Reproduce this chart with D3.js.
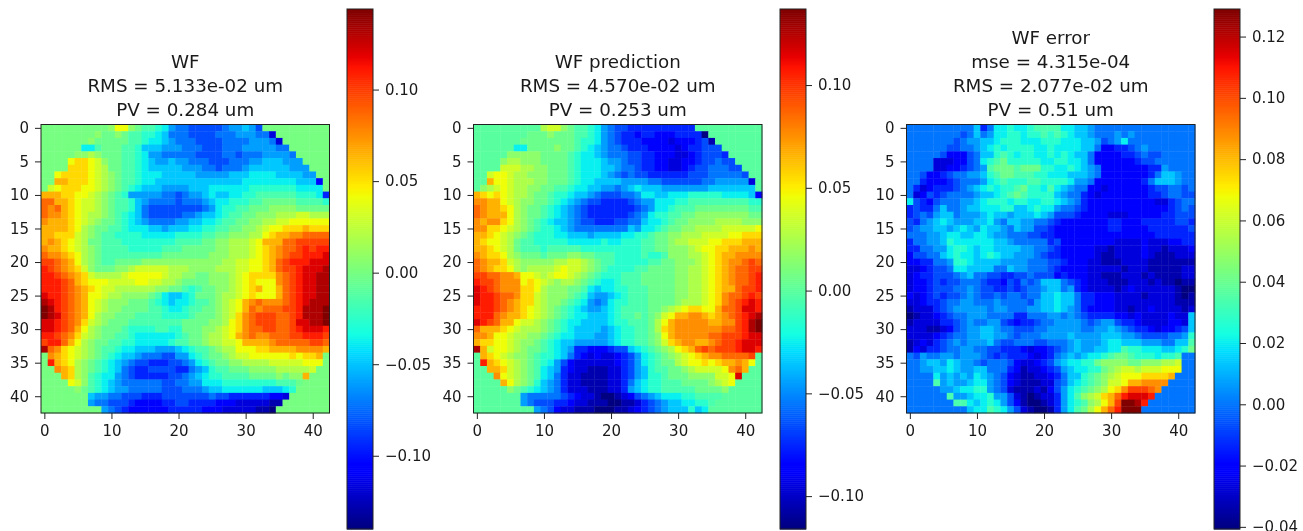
<!DOCTYPE html>
<html>
<head>
<meta charset="utf-8">
<script src="https://cdn.jsdelivr.net/npm/d3@7"></script>
<style>
html, body { margin: 0; padding: 0; background: #fff; overflow: hidden; }
svg { display: block; filter: blur(0.7px); }
text { font-family: "DejaVu Sans", sans-serif; fill: #1a1a1a; }
</style>
</head>
<body>
<script>
// one letter per pixel, a..z = bottom..top of that panel's colorbar, '.' = 0 (masked outside the pupil)
// spaces are only there to make the columns countable
var wfRows = [
"..... ..... nqqnm llkjh ggfff ffghh ihf.. ..... ...",
"..... ...nm mnmll kkjig ggfff fgggh hhggc ..... ...",
"..... ..nmm mmmll kjjih gggff ffggg ghhhg c.... ...",
"..... .jjlm mmllk iiihh hgggf ffggg hhhhh gg... ...",
"..... nnonm mmllk jhhgg gggff ffggf ggghh hhg.. ...",
"....q rrqpn mmllk jihhi hhggg fffgg ghhii ihhh. ...",
"....r rrqpo mmllk jiiii ihhhg gfggg hiiii iihhh ...",
"..qrr rrqpo nmllk jjjii iiihh hhhii ijjjj iiiih h..",
"..ssr rrqpo nmllk jjiii iiiii iiiii jjjjj jjjii id.",
".pqrr rqqpo nmlkj iiihh hhiii jjjjj jkkkk kkkjj jj.",
"sssrr qqpon mlkhh hhhgg fghhi jiijj kklll lllkk kje",
"uussr qppon mllki hgggg fgggh ijjkk kllmm mmmll llk",
"utusr qppon mllki gffff ffffg hjkkl lmmmn nnnmm mmm",
"uttsr qpoon mlkji gffff fgghi ijkll mmnnn ooopp ooo",
"tsssr qponm mlkji hgggg hhiij jkllm mnnoo ppqqq qqq",
"ssssr qonmm llkjj jiihi iijjk kllmm nnopq qrrrs rrr",
"ssrrr ponml lkkkk jjjjj kkkkl lmmnn nooqr ssttu uuu",
"stsrq pomml llkkk kkkkk llllm mnnoo opqss suuvv vvv",
"tssrq ponml lllkk kkkll lmmmm mnnoo opqrs tuuvw vww",
"uttsr qonml lllll lllmm mmmmm nnnoo opqrs tuvvw wwx",
"vvuts qonml lmmmm nnnnn nnnnn nnoop pqqrs uvwww xxx",
"wvuts rpnmm mnnop ppppo oonnn nooop pqqrs uvvwx xxy",
"wwvut srpoo oopqq qqqpo onnmm nnnop qrrrr tuvwx xyy",
"wwwvu srqqq ppppq qppoo nmmmm nnnop qrqqq tuvwx xyy",
"wwwvu tsrqp poooo oonnm mlklm mnnop qrsqq suvwx xyy",
"xwwvu tsqqp oonnn nmlji ijkmm mnoop qrqqq suvwx xyy",
"yxwvu tsqpo nnnmm mlkji jjkll mnopq stutt tuvwx yyy",
"zywvu tsqpo nnmmm mllkj jkllm mnopq sutuu uvvwy yyz",
"zyxvu tsqon nmmml lllkk kklmm mnopr tuvvv uuvwy yyz",
"xxwvu trpon mmmll lllll lmmmm nnoqr tuvvv uuvxx yyz",
"xxwvu sqonm mmlkk kkllk kmmmn nopqr tuuvv uuvwx xxw",
"wwvut rponm mllkj jjjjj klmmn oopqs tuttu uuvvw wwv",
"vwwus qonmm llkkj jjjjk llmmn ooppq sssst uuuuu vvu",
"yutrq ponml lkjji iihhh ijkll mnooq qqrrs ssstt tts",
".tsrq ponml kjiih gggff hhjkl mmnop pqqqq qqrqr rs.",
".wsrq onmlk jihgf feeef fghjk lmmnn oooop ppppq qq.",
"..tsr onmlk jigfe effff eeghi kllmm mnnnn ooooo p..",
"...sr onlkj jhgfe eeeef fghij kklll lmmmm nmnns ...",
"....q pnlkj ihggg gggff gghhj jjkkk kkkkk lllm. ...",
"..... nmlkj ihhgg gggff fgggh iijjj jjjii ijk.. ...",
"..... ..ihh ggfff eeeff fffff gffee eeeed dc... ...",
"..... ..hgg fffed dddee ffeee edddc ccccb b.... ...",
"..... ....h gfedd dddde eeeed ddccc ccbba ..... ..."
];
var predRows = [
"..... ..... oppnm llkjh gffee eeeee eee.. ..... ...",
"..... ...mm mnmmm llkjh gfeed eeddd eeeea ..... ...",
"..... ..mmm mmmmm lkkjh gfeee ddddc dddef b.... ...",
"..... .jjmm mmnmm lkjih ggfee edddd cdeef f.... ...".replace("f....", "ff..."),
"..... nnnnn mmmml kjjih gggff eeddd ccdef ffe.. ...",
"....n oonnn mmmml kjjji hhgff eeddc cddef fgff. ...",
"....p ppoon nmmml kjjji ihggf eeddc cdeff gggff ...",
"..pqq poonn nmmml kjjji hgfgf feeee eefff ggggg f..",
"..sqq pooon nmmml kjjii iihhh hggff ffffg ghhhh hc.",
".nopq poonn mmllk jjiih hghij iiihh hhhhh iiiii ii.",
"srqrq poonm mlkkj iihgf ffggh jjiij jjkkk kkjjj jid",
"ttssq ponnm mlkji hgffe eeefg hhjjj kklll lllll lkk",
"utssr qonmm lkjih gfeee eeeef ghjjk lllmm mmmmm mll",
"utsss qonmm lkjih gfeee eeefg hjkkl lmmnn nnnnn nmm",
"tsttr qonml kjiih gffee effgg ijjkl mmnnn noooo nnn",
"ttrrq ponml kkjih ggggg gggih jjklm mnnoo ooppp ppq",
"ssrqp onmlk kkjji iihii iijjk klmmn nooop pppqq rrr",
"srqqp omllk kkkkj jjjjk jjkkk llmmn ooppp qqrrr sss",
"ssrqp omlll kllll lkkkk kkkkk llmmn nnopq qrrss sts",
"tsrrq onmmm lmmmn nmmll lkkkk lkkln nnoop qrsst ttt",
"utssr ponnn nnoop ponml lkkkk kllmm nnnop qrstt uvu",
"utsrr qonoo oopqp ponml kkkkl lmmmm nnoop qrstu uvv",
"vvuut tsqqp opqqp onmlk kklll mmmmm nnoop qrstu uvw",
"wvvut ttqrq ponoo nmlkj jklll mmmmm nnoop qrstu uvw",
"xwvut ttrrq onnnm mljij jkkll lmmmm nnoop qrssu vvw",
"xwwvu utrrp onnnm lkihh ijkll lmmmm nnoop qrtuu vwv",
"xwwvu tsrrp onnml kjhgh jkkll lmmmm nooop qrtuv wxw",
"wwwvu tsrqp onmlk jihhi jklll lmmno pqrrq qsuuv xxw",
"wwwut ssrqp onmlk jjiii jkllm lmnpq sstts rstuv wxy",
"xwvus sqppo nmlkj jiiii jkkll lmoqs ttttt ssttv wyz",
"usssr qpooo nmlkj iiiih ijkkl lmors ttttt ttuuv wyz",
"ttsqq poonn mlkjj iiihh ijkkl lmnqs ttttt uuvvv wxx",
"srrqq ponnm lkjii hhhhh ijkkl lmnpr sttss tuvvw xxx",
"yspqq ponmm lkjih eeddd effij klmno qrsuv uvvvw xxw",
".srqp onnml kkjig edcdc cdefh jklmn opqrs ttuuu uv.",
".wsrq ponml kjhfd ccccc cdefh jklmm opqqr qrsst sq.",
"..ssr ponml jihed ccbbb ccefh ikllm mnopp ppqtu s..",
"...tq ponml jigec cbbbb ccefh ikklm mmnnn nppqx ...",
"....s qonmk ihgec cbbbb ccegi jkkll lmmmm nopq. ...",
"..... nmlkj ihgec ccbbb ccehi jkkll lllmm mmn.. ...",
"..... ..hgg gggfe dccba abcdf ghijj jkkll ll... ...",
"..... ..hgf ffeed ccbbb aabbc efghi ijjkk l.... ...",
"..... ....h gfdcc bbbaa abbcd efghi iikij ..... ..."
];
var errRows = [
"..... ..... iegjj kjjkl llljj iihgg ggg.. ..... ...",
"..... ...fg ighjj kkjkk lklkj iihgg ghghg ..... ...",
"..... ..fgh hiijk kkjjj kkkjj jiihf ghjgg g.... ...",
"..... .ffgg hijkj kkkkj jkjjj jiigd deefg hg... ...",
"..... fdddf giikl kjkkj jkjkj iigdd ddeef gff.. ...",
"....c ccddf gjklm kkkkk jjkkj jigdd dddde ffgg. ...",
"....c cddef ghlmm mlmmm kkjjk jihgd ddddd deehg ...",
"..fdd efggh hiklm mlllk kjjji iihgd ddddd degii h..",
"..edd defgg ghjkl kkkll kkkkj hhgdd ddddd egiii hg.",
".ecde eefgh ijkjk klmkk jljih ggddc ddddd deffg gf.",
"gcdfe fgggg hiijk lmlkk kkihg gedcd ddddd deefg gff",
"jfedf ggghh ijkkk jkkjj kkjih geddd ddddd ddcce fgg",
"efeeg igghi ijjjk kiijk jjhgg feddd ddddd dddde fgf",
"efgfh iighh hijii hiiij ihfff edddd cccdd dddee fff",
"feghi jihhh iijhg iihhg gfedd ddddd eeddd eeeee ffe",
"fghhi ihiji hjiih gihhf feddd ddddd eeddd deeee eef",
"ggghh ijjii jjihh gggff eeddd ddddd ddddd ddeee eee",
"egghh ikjjj jjjii hgggg gefdd ddddd dcccc dcccd dee",
"eeggh hjkkj ijjii iihhg gfedd dddcc bcccc dccbc ccd",
"dffgg ijkjj ijkji ihhhg feedd dddcb bcccc dcbbb ccc",
"ddeeg ghkkj iiiih hhhgg gffed ddccb bbccc cbbbb bbb",
"ccdef fgjji iiigg ihhgg gfedd ddccc ccbcc cbbbb bcc",
"cdeef ffghi ggffe effgf ffded ddccb bbccc bcbbb bcc",
"cddef effgg gfeed fegfg iiigf edccc bbbcc cbcbb abb",
"cddef ffggh gffee fefgg hiigh edccc cbcdc ccccc baa",
"dcdef effgh gffgf ggfgg iijii geedd dcccc bcccc bab",
"ccdee fgghh ggghg gggfh iijii geedd dcccc ccccc bbb",
"bccce fghhh hhghh ggghh iijih geddd dccbc cdccc cbc",
"abccd efggh hhggg geegg ghhgh gfeee eddcd ccccd cci",
"bcccc eefgh gghhf edeef gghhh hgfgh hfeed ccccd dci",
"cccbb cdfgh hiihg gfffg ghhhh hgghh ihgfe edcdd efi",
"ccccd efggh hiihh gfggg hhhhi hhhhi iihhg ffffg ghk",
"bcdce fghgh hhigf fgggf fgggh ihhhi jjiii hhhgg iil",
"bdcee fgghh ggffe eedcd defgh ihhii jjlkk jjjii jkm",
".fhgg hhghh hgfef eeedc deghi hijjk lmmlk kkjkk l..",
".ghii hjihh gfggg fdccd efhij jkkmn nnnmm nnnoo p..",
"..hhi ijihh iiggg edbcc defhi jjkkm noppo pppqq q..",
"...gj hihih jihgf dcbbc cdegi iklmn opqqq rrrrs ...",
"....l hihhi jjhgf dcbbb ccfgi jklmn ppqss tttt. ...",
"..... hhijj kkhgf cbbbc bdfhj klmno qrtvv vut.. ...",
"..... .lhhi jjkhh fcbab ccehj lnopr suwxx xw... ...",
"..... ..llj ijkjh fdbaa bcehj klnoq svzzy w.... ...",
"..... ....i jjlkj hfcba abehj lmoqs uwzzz ..... ..."
];

var vmin = [-0.140, -0.116, -0.0407];
var vmax = [0.144, 0.137, 0.129];
var cbTicks = [
    [-0.10, -0.05, 0.00, 0.05, 0.10],
    [-0.10, -0.05, 0.00, 0.05, 0.10],
    [-0.04, -0.02, 0.00, 0.02, 0.04, 0.06, 0.08, 0.10, 0.12]
];
var titles = [
    ['WF', 'RMS = 5.133e-02 um', 'PV = 0.284 um'],
    ['WF prediction', 'RMS = 4.570e-02 um', 'PV = 0.253 um'],
    ['WF error', 'mse = 4.315e-04', 'RMS = 2.077e-02 um', 'PV = 0.51 um']
];
var xTicks = [0, 10, 20, 30, 40];
var yTicks = [0, 5, 10, 15, 20, 25, 30, 35, 40];
var grids = [wfRows, predRows, errRows];

var width = 1303, height = 531;
var levels = 'abcdefghijklmnopqrstuvwxyz';
var n = 43;
var imgLeft = [41, 473.5, 906.5];
var imgSize = 288.5;
var imgTop = 124.5;
var cbLeft = [347, 780, 1214];
var cbWidth = 26;
var cbTop = 9, cbBottom = 529;

// matplotlib jet, channel by channel
var jetR = d3.scaleLinear().domain([0, 0.35, 0.66, 0.89, 1]).range([0, 0, 1, 1, 0.5]).clamp(true);
var jetG = d3.scaleLinear().domain([0, 0.125, 0.375, 0.64, 0.91, 1]).range([0, 0, 1, 1, 0, 0]).clamp(true);
var jetB = d3.scaleLinear().domain([0, 0.11, 0.34, 0.65, 1]).range([0.5, 1, 1, 0, 0]).clamp(true);
function jet(t) {
    return d3.rgb(jetR(t) * 255, jetG(t) * 255, jetB(t) * 255).formatRgb();
}

var svg = d3.select('body').append('svg').attr('width', width).attr('height', height);

function styleAxis(g) {
    g.selectAll('.domain').remove();
    g.selectAll('line').attr('stroke', '#222').attr('stroke-width', 1);
    g.selectAll('text').attr('font-size', 15).attr('fill', '#1a1a1a');
}

grids.forEach(function (rows, p) {
    var panel = svg.append('g');
    var x = d3.scaleLinear().domain([-0.5, n - 0.5]).range([imgLeft[p], imgLeft[p] + imgSize]);
    var y = d3.scaleLinear().domain([-0.5, n - 0.5]).range([imgTop, imgTop + imgSize]);
    var val = d3.scaleLinear().domain([0, 25]).range([vmin[p], vmax[p]]);
    var col = d3.scaleLinear().domain([vmin[p], vmax[p]]).range([0, 1]);

    var cells = [];
    rows.forEach(function (row, r) {
        var s = row.replace(/ /g, '');
        if (s.length !== n) throw new Error('panel ' + p + ' row ' + r + ' has ' + s.length + ' cells');
        for (var c = 0; c < n; c++) {
            var ch = s.charAt(c);
            cells.push({ r: r, c: c, v: ch === '.' ? 0 : val(levels.indexOf(ch)) });
        }
    });

    panel.selectAll('rect.cell').data(cells).enter().append('rect')
        .attr('class', 'cell')
        .attr('x', function (d) { return x(d.c - 0.5); })
        .attr('y', function (d) { return y(d.r - 0.5); })
        .attr('width', x(1) - x(0) + 0.4)
        .attr('height', y(1) - y(0) + 0.4)
        .attr('fill', function (d) { return jet(col(d.v)); });

    panel.append('rect')
        .attr('x', imgLeft[p]).attr('y', imgTop)
        .attr('width', imgSize).attr('height', imgSize)
        .attr('fill', 'none').attr('stroke', '#222').attr('stroke-width', 1);

    panel.append('g')
        .attr('transform', 'translate(0,' + (imgTop + imgSize) + ')')
        .call(d3.axisBottom(x).tickValues(xTicks).tickFormat(d3.format('d')).tickSize(6).tickPadding(6))
        .call(styleAxis);
    panel.append('g')
        .attr('transform', 'translate(' + imgLeft[p] + ',0)')
        .call(d3.axisLeft(y).tickValues(yTicks).tickFormat(d3.format('d')).tickSize(6).tickPadding(6))
        .call(styleAxis);

    // title sits on top of the image, last line closest
    var lines = titles[p];
    lines.forEach(function (line, i) {
        panel.append('text')
            .attr('x', imgLeft[p] + imgSize / 2)
            .attr('y', 115.5 - (lines.length - 1 - i) * 23.7)
            .attr('text-anchor', 'middle')
            .attr('font-size', 18.3)
            .text(line);
    });

    // colorbar
    var cy = d3.scaleLinear().domain([vmin[p], vmax[p]]).range([cbBottom, cbTop]);
    var steps = d3.range(256);
    var cb = svg.append('g');
    cb.selectAll('rect').data(steps).enter().append('rect')
        .attr('x', cbLeft[p])
        .attr('y', function (d) { return cbBottom - (d + 1) / 256 * (cbBottom - cbTop); })
        .attr('width', cbWidth)
        .attr('height', (cbBottom - cbTop) / 256 + 0.5)
        .attr('fill', function (d) { return jet(d / 255); });
    cb.append('rect')
        .attr('x', cbLeft[p]).attr('y', cbTop)
        .attr('width', cbWidth).attr('height', cbBottom - cbTop)
        .attr('fill', 'none').attr('stroke', '#222').attr('stroke-width', 1);
    cb.append('g')
        .attr('transform', 'translate(' + (cbLeft[p] + cbWidth) + ',0)')
        .call(d3.axisRight(cy).tickValues(cbTicks[p]).tickFormat(d3.format('.2f')).tickSize(6).tickPadding(6))
        .call(styleAxis);
});
</script>
</body>
</html>
